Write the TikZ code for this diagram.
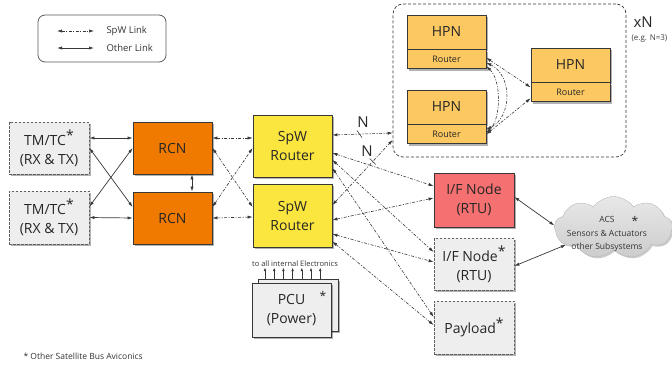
\documentclass[tikz,border=0pt]{standalone}
\usepackage{fontspec}
\setmainfont{Open Sans}
\usepackage{xcolor}
\usepackage{tikz}
\usetikzlibrary{positioning, shapes.symbols, arrows.meta, shadows}

\definecolor{rcnorange}{RGB}{240,122,0}
\definecolor{spwyellow}{RGB}{250,230,62}
\definecolor{hpnorange}{RGB}{252,200,98}
\definecolor{rtured}{RGB}{245,112,112}
\definecolor{boxgray}{RGB}{238,238,238}
\definecolor{linegray}{RGB}{55,55,55}

\newcommand{\supstar}{\raisebox{0.35em}{*}}

\begin{document}
\begin{tikzpicture}[
          x=1pt, y=-1pt,
          >={Latex[length=5pt,width=3.2pt]},
          blk/.style={draw=linegray, line width=0.8pt, minimum width=79pt,
            align=center, inner sep=0pt, text=black!85,
            font=\fontsize{14}{19}\selectfont,
            drop shadow={shadow xshift=1.8pt, shadow yshift=-1.8pt, opacity=0.3, fill=black}},
          ext/.style={blk, fill=boxgray, draw=gray!75!black, dash pattern=on 2.5pt off 1.5pt},
          hpn/.style={blk, fill=hpnorange, minimum height=34pt},
          hpnr/.style={blk, fill=hpnorange, minimum height=19pt, font=\fontsize{9}{10}\selectfont},
          spw/.style={<->, linegray, line width=0.6pt, dash pattern=on 3pt off 1.5pt on 1pt off 1.5pt},
          wire/.style={<->, linegray, line width=0.7pt},
          small/.style={text=black!80, font=\fontsize{9.5}{11}\selectfont}
        ]
        \useasboundingbox (0,0) rectangle (672,369);

        % legend
        \node[draw=gray!70!black, line width=0.8pt, rounded corners=7pt,
          minimum width=128pt, minimum height=47pt] (legend) at (102,38.5) {};
        \coordinate (ls1) at (57,31);
        \coordinate (ls2) at (94,31);
        \coordinate (lo1) at (57,48);
        \coordinate (lo2) at (94,48);
        \draw[spw] (ls1) -- (ls2);
        \draw[wire] (lo1) -- (lo2);
        \node[small, anchor=west] (lspw) at (103,31) {SpW Link};
        \node[small, anchor=west] (loth) at (103,48) {Other Link};

        % HPN group
        \node[draw=linegray, line width=0.7pt, dash pattern=on 3pt off 2pt,
          rounded corners=10pt, minimum width=233pt, minimum height=153pt] (grp) at (509.5,80.5) {};
        \node[anchor=west, text=black!85, font=\fontsize{15}{15}\selectfont] (xn) at (630,22) {xN};
        \node[anchor=west, text=black!75, font=\fontsize{8}{9}\selectfont] (eg) at (628,39) {(e.g. N=3)};

        \node[hpn] (hpn1) at (446.5,32) {HPN};
        \node[hpnr] (hpn1r) [below=0pt of hpn1] {Router};
        \node[hpn] (hpn2) at (446.5,107) {HPN};
        \node[hpnr] (hpn2r) [below=0pt of hpn2] {Router};
        \node[hpn] (hpn3) at (570.5,65) {HPN};
        \node[hpnr] (hpn3r) [below=0pt of hpn3] {Router};

        \draw[spw] ([yshift=1.5pt]hpn1r.east) -- ([yshift=5pt]hpn3r.west);
        \draw[spw] (hpn2r.east) -- ([yshift=-6pt]hpn3r.west);
        \draw[spw] ([yshift=-3.5pt]hpn1r.east) .. controls +(26,12) and +(26,-12) .. ([yshift=5pt]hpn2r.east);
        \draw[spw] ([yshift=-7pt]hpn1r.east) .. controls +(15,14) and +(15,-14) .. ([yshift=1.5pt]hpn2r.east);

        % telecommand and reconfiguration
        \node[ext, minimum width=80pt, minimum height=52pt] (tmtc1) at (49,148) {TM/TC\supstar\\(RX \& TX)};
        \node[ext, minimum width=80pt, minimum height=53pt] (tmtc2) at (49,217.5) {TM/TC\supstar\\(RX \& TX)};
        \node[blk, fill=rcnorange, minimum height=52pt] (rcn1) at (172.5,148) {RCN};
        \node[blk, fill=rcnorange, minimum height=52pt] (rcn2) at (172.5,218) {RCN};

        % routers
        \node[blk, fill=spwyellow, minimum height=62pt] (r1) at (292.5,146) {SpW\\Router};
        \node[blk, fill=spwyellow, minimum height=63pt] (r2) at (292.5,215.5) {SpW\\Router};

        % power
        \node[blk, fill=boxgray, minimum width=80pt, minimum height=52pt] (pcub) at (298,305) {};
        \node[blk, fill=boxgray, minimum height=54pt] (pcu) at (291.5,310) {PCU\\(Power)};
        \node[text=black!85, font=\fontsize{12}{12}\selectfont] (pcustar) at (323,296) {*};
        \foreach \k in {0,...,6}
          \draw[-{Latex[length=3.5pt,width=2.6pt]}, linegray, line width=0.6pt]
            ([xshift={-33pt+\k*9.2pt}]pcub.north) -- ++(0,-11);
        \node[text=black!80, font=\fontsize{7.5}{9}\selectfont] (elec) at (295,264) {to all internal Electronics};

        % terminal nodes
        \node[blk, fill=rtured, minimum width=80pt, minimum height=54pt] (rtu) at (474,200) {I/F Node\\(RTU)};
        \node[ext, minimum width=80pt, minimum height=52pt] (ifn) at (474,264) {I/F Node\supstar\\(RTU)};
        \node[ext, minimum width=80pt, minimum height=53pt] (payload) at (474,327.5) {Payload\supstar};

        \node[cloud, cloud puffs=9, cloud puff arc=110, aspect=1.9, draw=gray!55,
          top color=gray!18, bottom color=gray!40, minimum width=118pt, minimum height=62pt,
          drop shadow={shadow xshift=1.5pt, shadow yshift=-1.5pt, opacity=0.2, fill=black}] (acs) at (613.5,227.5) {};
        \node[align=center, text=black!80, font=\fontsize{8.5}{13.5}\selectfont] (acstext) at (607,234)
          {ACS\\Sensors \& Actuators\\other Subsystems};
        \node[text=black!85, font=\fontsize{12}{12}\selectfont] (acsstar) at (635,221) {*};

        % other links
        \draw[wire] ([yshift=10pt]tmtc1.east) -- ([yshift=10pt]rcn1.west);
        \draw[wire] (tmtc1.east) -- ([yshift=11pt]rcn2.west);
        \draw[wire] ([yshift=11pt]tmtc2.east) -- (rcn1.west);
        \draw[wire] (tmtc2.east) -- (rcn2.west);
        \draw[wire] ([xshift=19.5pt]rcn1.south) -- ([xshift=19.5pt]rcn2.north);
        \draw[wire] ([yshift=3pt]rtu.east) -- (acs.178);
        \draw[wire] ([yshift=-2pt]ifn.east) -- (acs.200);

        % spacewire links
        \draw[spw] ([yshift=10pt]rcn1.east) -- ([yshift=8pt]r1.west);
        \draw[spw] (rcn1.east) -- ([yshift=8.5pt]r2.west);
        \draw[spw] ([yshift=11pt]rcn2.east) -- ([yshift=-2pt]r1.west);
        \draw[spw] (rcn2.east) -- ([yshift=-1.5pt]r2.west);

        \draw[spw] ([yshift=11pt]r1.east) -- coordinate[pos=.45] (t1) ([yshift=-52.5pt]grp.west);
        \draw[spw] ([yshift=10.5pt]r2.east) -- coordinate[pos=.67] (t2) ([yshift=-59.5pt]grp.west);
        \draw[linegray, line width=0.6pt] (t1) ++(-2.5,-3.5) -- ++(5,7);
        \draw[linegray, line width=0.6pt] (t2) ++(-3,-3) -- ++(6,6);
        \node[text=black!85, font=\fontsize{15}{15}\selectfont] (na) at (363,122) {N};
        \node[text=black!85, font=\fontsize{15}{15}\selectfont] (nb) at (367,151) {N};

        \draw[spw] ([yshift=-7pt]r1.east) -- ([yshift=14pt]rtu.west);
        \draw[spw] ([yshift=-4.5pt]r2.east) -- ([yshift=2pt]rtu.west);
        \draw[spw] ([yshift=-14pt]r1.east) -- ([yshift=12pt]ifn.west);
        \draw[spw] ([yshift=-18.5pt]r2.east) -- ([yshift=2pt]ifn.west);
        \draw[spw] ([yshift=-22pt]r1.east) -- ([yshift=10.5pt]payload.west);
        \draw[spw] ([yshift=-26pt]r2.east) -- ([yshift=2.5pt]payload.west);

        \node[anchor=west, text=black!80, font=\fontsize{8.5}{10}\selectfont] (note) at (20,356) {* Other Satellite Bus Aviconics};
      \end{tikzpicture}
\end{document}
